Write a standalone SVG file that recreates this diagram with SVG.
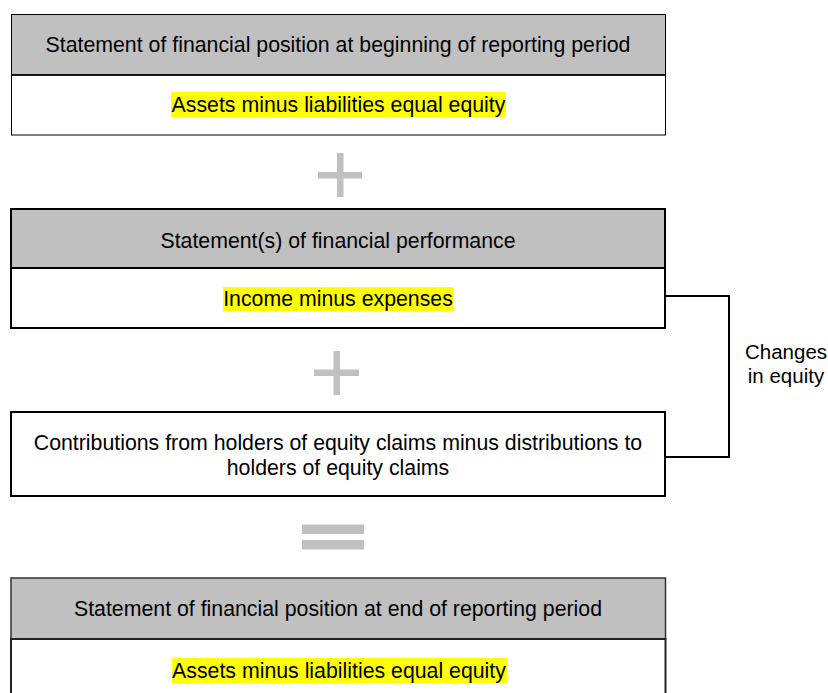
<svg xmlns="http://www.w3.org/2000/svg" width="828" height="693" viewBox="0 0 828 693">
<style>
text{font-family:"Liberation Sans",Arial,sans-serif;font-size:21.3px;fill:#000;}
.c{text-anchor:middle;}
.hdr{fill:#c0c0c0;}
.body{fill:#fff;}
.hl{fill:#ffff00;}
.sym{fill:#c0c0c0;}
.conn{fill:none;stroke:#000;stroke-width:2;}
</style>
<rect width="828" height="693" fill="#fff"/>
<g id="start">
<rect class="hdr" x="11.5" y="14.5" width="654" height="60.5" stroke="#000" stroke-width="1"/>
<rect class="body" x="11.5" y="75" width="654" height="60" stroke="#000" stroke-width="1"/>
<line x1="11" y1="75" x2="666" y2="75" stroke="#000" stroke-width="1.5"/>
<text class="c" x="338" y="52">Statement of financial position at beginning of reporting period</text>
<rect class="hl" x="171" y="92" width="335" height="25"/>
<text class="c" x="338.5" y="112">Assets minus liabilities equal equity</text>
</g>
<g id="plus1">
<rect class="sym" x="318" y="172" width="44" height="6.5"/>
<rect class="sym" x="337" y="153" width="6.5" height="44"/>
</g>
<g id="performance">
<rect class="hdr" x="11" y="209" width="654" height="59" stroke="#000" stroke-width="2"/>
<rect class="body" x="11" y="268" width="654" height="60" stroke="#000" stroke-width="2"/>
<text class="c" x="338" y="248">Statement(s) of financial performance</text>
<rect class="hl" x="223" y="287" width="230" height="24"/>
<text class="c" x="338" y="306">Income minus expenses</text>
</g>
<g id="plus2">
<rect class="sym" x="314" y="369.5" width="45" height="6.5"/>
<rect class="sym" x="333.5" y="351" width="6.5" height="44"/>
</g>
<g id="contributions">
<rect class="body" x="11" y="412" width="654" height="84" stroke="#000" stroke-width="2"/>
<text class="c" x="338" y="450">Contributions from holders of equity claims minus distributions to</text>
<text class="c" x="338" y="475">holders of equity claims</text>
</g>
<g id="connectors">
<polyline class="conn" points="665,296 729,296 729,457 665,457"/>
</g>
<g id="changes">
<text class="c" x="786" y="359" style="font-size:20.5px">Changes</text>
<text class="c" x="786" y="383" style="font-size:20.5px">in equity</text>
</g>
<g id="equals">
<rect class="sym" x="302" y="524.5" width="62" height="9.5"/>
<rect class="sym" x="302" y="540" width="62" height="9.5"/>
</g>
<g id="end">
<rect class="hdr" x="11" y="578" width="654.5" height="61" stroke="#333" stroke-width="1.5"/>
<rect class="body" x="11" y="639" width="654.5" height="70" stroke="#222" stroke-width="2"/>
<text class="c" x="338" y="616">Statement of financial position at end of reporting period</text>
<rect class="hl" x="172" y="658" width="335" height="25"/>
<text class="c" x="339" y="678">Assets minus liabilities equal equity</text>
</g>
</svg>
